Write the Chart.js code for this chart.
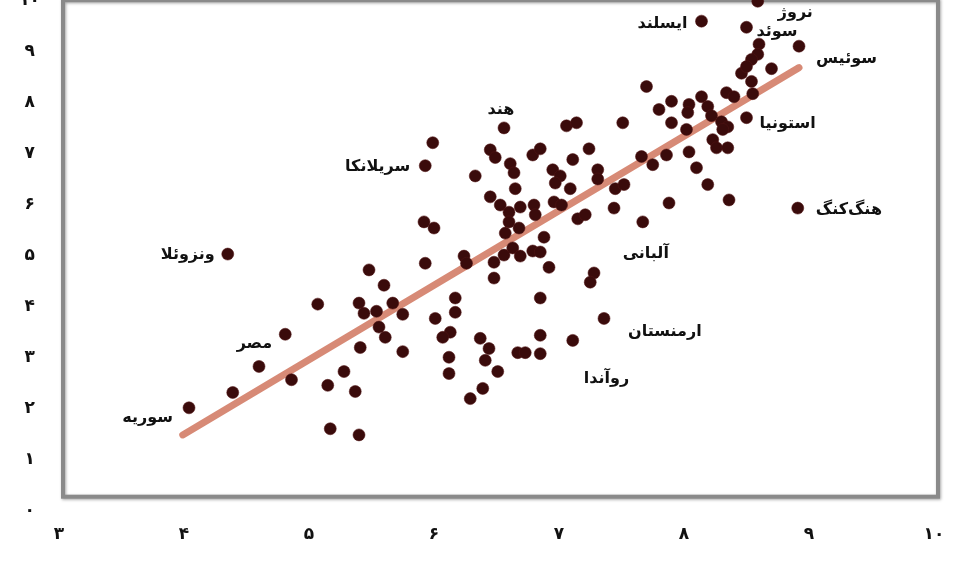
<!DOCTYPE html>
<html lang="fa">
<head>
<meta charset="utf-8">
<title>نمودار پراکنش</title>
<script src="https://cdn.jsdelivr.net/npm/chart.js@4/dist/chart.umd.min.js"></script>
<style>
  html, body { margin: 0; padding: 0; background: #ffffff; }
  #wrap { position: relative; width: 962px; height: 586px; overflow: hidden; background: #ffffff; }
  #chart { position: absolute; left: 0; top: -29px; }
</style>
</head>
<body>
<div id="wrap"><canvas id="chart" width="962" height="616"></canvas></div>
<script>
// Axis tick labels (Persian digits)
const xTickLabels = ['۳', '۴', '۵', '۶', '۷', '۸', '۹', '۱۰'];
const yTickLabels = ['۰', '۱', '۲', '۳', '۴', '۵', '۶', '۷', '۸', '۹', '۱۰'];

// Named countries and their values
const namedCountries = ['سوریه', 'مصر', 'ونزوئلا', 'سریلانکا', 'هند', 'آلبانی', 'ارمنستان',
                        'روآندا', 'ایسلند', 'نروژ', 'سوئد', 'سوئیس', 'استونیا', 'هنگ‌کنگ'];
const namedX = [4.04, 4.81, 4.35, 5.93, 6.56, 7.67, 7.36, 7.11, 8.14, 8.59, 8.50, 8.92, 8.50, 8.91];
const namedY = [2.02, 3.46, 5.03, 6.76, 7.50, 5.66, 3.77, 3.34, 9.59, 9.98, 9.47, 9.10, 7.70, 5.93];

// Remaining (unlabelled) countries
const otherX = [4.39, 4.60, 4.86, 5.07, 5.15, 5.17, 5.28, 5.37, 5.40, 5.41, 5.40, 5.44, 5.54, 5.67,
                5.75, 5.48, 5.60, 5.56, 5.61, 5.75, 5.93, 6.17, 6.17, 6.01, 6.13, 6.07, 6.12, 6.12,
                6.37, 6.44, 6.41, 6.51, 6.39, 6.29, 6.67, 6.73, 6.85, 6.85, 6.85, 6.48, 7.28, 7.25,
                6.24, 6.26, 6.48, 6.56, 6.63, 6.69, 6.79, 6.85, 6.92, 6.88, 5.92, 6.00, 6.45, 6.53,
                6.60, 6.69, 6.80, 6.81, 6.60, 6.57, 6.68, 6.65, 6.33, 6.45, 6.49, 6.61, 6.64, 6.79,
                6.85, 5.99, 6.95, 7.01, 6.97, 7.11, 7.24, 7.06, 7.14, 7.51, 7.31, 7.31, 7.09, 6.96,
                7.02, 7.15, 7.21, 7.44, 7.45, 7.52, 7.66, 7.75, 7.80, 7.70, 7.90, 8.04, 8.03, 8.14,
                8.19, 8.22, 8.34, 8.40, 8.46, 8.54, 8.55, 8.70, 7.90, 8.02, 8.30, 8.35, 8.31, 8.23,
                8.26, 8.35, 8.04, 7.86, 8.10, 8.19, 8.36, 7.88, 8.60, 8.59, 8.54, 8.50];
const otherY = [2.32, 2.83, 2.57, 4.05, 2.46, 1.61, 2.73, 2.34, 1.49, 3.20, 4.07, 3.87, 3.91, 4.07,
                3.85, 4.72, 4.42, 3.60, 3.40, 3.12, 4.85, 4.17, 3.89, 3.77, 3.50, 3.40, 3.01, 2.69,
                3.38, 3.18, 2.95, 2.73, 2.40, 2.20, 3.10, 3.10, 3.44, 3.08, 4.17, 4.56, 4.66, 4.48,
                4.99, 4.85, 4.87, 5.01, 5.15, 4.99, 5.09, 5.07, 4.77, 5.36, 5.66, 5.54, 6.15, 5.99,
                5.85, 5.95, 5.99, 5.80, 5.66, 5.44, 5.54, 6.31, 6.56, 7.07, 6.92, 6.80, 6.62, 6.97,
                7.09, 7.21, 6.68, 6.56, 6.42, 6.88, 7.09, 7.54, 7.60, 7.60, 6.68, 6.50, 6.31, 6.05,
                5.99, 5.72, 5.80, 5.93, 6.31, 6.39, 6.94, 6.78, 7.86, 8.31, 8.02, 7.96, 7.80, 8.11,
                7.92, 7.74, 8.19, 8.11, 8.57, 8.41, 8.17, 8.66, 7.60, 7.47, 7.62, 7.52, 7.47, 7.27,
                7.11, 7.11, 7.03, 6.97, 6.72, 6.39, 6.09, 6.03, 9.14, 8.94, 8.84, 8.70];

// Fitted trend line end points
const trendX = [3.99, 8.92];
const trendY = [1.49, 8.68];

const toPoints = (xs, ys) => xs.map((x, i) => ({ x: x, y: ys[i] }));
const allPoints = toPoints(namedX, namedY).concat(toPoints(otherX, otherY));

const FONT = '"DejaVu Sans", sans-serif';

// Gray frame around the plotting region; its floor sits slightly above zero
const framePlugin = {
  id: 'frame',
  beforeDatasetsDraw(chart, args, opts) {
    const { ctx, chartArea, scales } = chart;
    const bottom = scales.y.getPixelForValue(opts.floorValue);
    ctx.save();
    ctx.strokeStyle = opts.color;
    ctx.lineWidth = opts.width;
    ctx.shadowColor = 'rgba(0,0,0,0.35)';
    ctx.shadowBlur = 3;
    ctx.shadowOffsetX = 1;
    ctx.shadowOffsetY = 1;
    ctx.strokeRect(chartArea.left + opts.inset, chartArea.top, chartArea.right - chartArea.left, bottom - chartArea.top);
    ctx.restore();
  }
};

// Country name labels placed next to their points
const labelPlugin = {
  id: 'countryLabels',
  afterDatasetsDraw(chart, args, opts) {
    const { ctx, scales } = chart;
    ctx.save();
    ctx.font = opts.font;
    ctx.fillStyle = opts.color;
    ctx.textBaseline = 'middle';
    namedCountries.forEach((name, i) => {
      const p = opts.placement[i];
      const px = scales.x.getPixelForValue(namedX[i]) + p[0];
      const py = scales.y.getPixelForValue(namedY[i]) + p[1];
      ctx.textAlign = p[2];
      ctx.fillText(name, px, py);
    });
    ctx.restore();
  }
};

new Chart(document.getElementById('chart'), {
  type: 'scatter',
  data: {
    datasets: [
      {
        type: 'line',
        data: toPoints(trendX, trendY),
        borderColor: 'rgba(212,128,106,0.92)',
        borderWidth: 7,
        borderCapStyle: 'round',
        pointRadius: 0,
        order: 2
      },
      {
        data: allPoints,
        backgroundColor: '#3a0b0b',
        borderColor: 'rgba(80,20,20,0.55)',
        borderWidth: 1,
        pointRadius: 6,
        pointHoverRadius: 6,
        clip: false,
        order: 1
      }
    ]
  },
  options: {
    responsive: false,
    animation: false,
    devicePixelRatio: 1,
    layout: { padding: { top: 15, right: 28, left: 0, bottom: 0 } },
    plugins: {
      legend: { display: false },
      tooltip: { enabled: false },
      frame: { color: '#8a8a8a', width: 4, inset: 4, floorValue: 0.28 },
      countryLabels: {
        font: 'bold 16px ' + FONT,
        color: '#111111',
        // [dx, dy, align] relative to each named point
        placement: [
          [-16, 10, 'right'],   // سوریه
          [-13, 10, 'right'],   // مصر
          [-13, 1, 'right'],    // ونزوئلا
          [-15, 1, 'right'],    // سریلانکا
          [-3, -18, 'center'],  // هند
          [3, 32, 'center'],    // آلبانی
          [24, 13, 'left'],     // ارمنستان
          [11, 38, 'left'],     // روآندا
          [-14, 3, 'right'],    // ایسلند
          [20, 12, 'left'],     // نروژ
          [10, 5, 'left'],      // سوئد
          [17, 13, 'left'],     // سوئیس
          [13, 6, 'left'],      // استونیا
          [18, 2, 'left']       // هنگ‌کنگ
        ]
      }
    },
    scales: {
      x: {
        type: 'linear',
        min: 3,
        max: 10,
        grid: { display: false, drawTicks: false },
        border: { display: false },
        ticks: {
          stepSize: 1,
          padding: 13,
          color: '#111111',
          font: { family: FONT, size: 17, weight: 'bold' },
          callback: (v, i) => xTickLabels[i]
        },
        afterFit: (scale) => { scale.height = 76; }
      },
      y: {
        type: 'linear',
        min: 0,
        max: 10,
        grid: { display: false, drawTicks: false },
        border: { display: false },
        ticks: {
          stepSize: 1,
          padding: 19,
          crossAlign: 'center',
          color: '#111111',
          font: { family: FONT, size: 17, weight: 'bold' },
          callback: (v, i) => yTickLabels[i]
        },
        afterFit: (scale) => { scale.width = 59; }
      }
    }
  },
  plugins: [framePlugin, labelPlugin]
});
</script>
</body>
</html>
